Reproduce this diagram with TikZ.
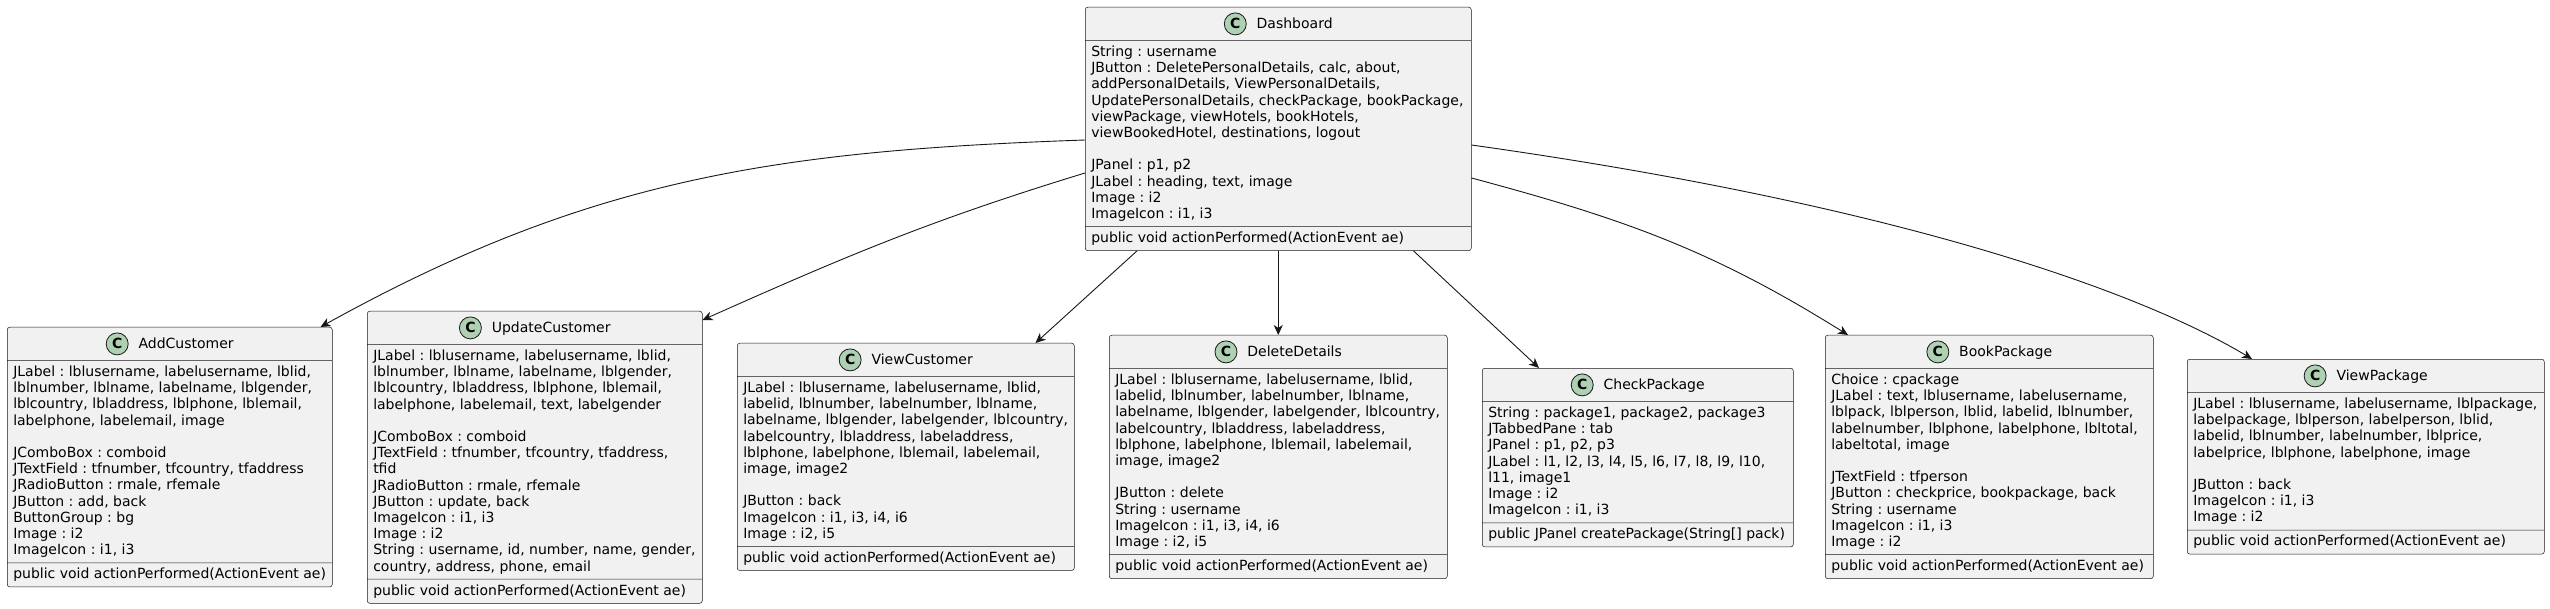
\documentclass[tikz,border=0pt]{standalone}
\usepackage{fontspec}
\setmainfont{DejaVu Sans}
\frenchspacing
\usetikzlibrary{arrows.meta, positioning, shapes.multipart}
\definecolor{classfill}{HTML}{F1F1F1}
\definecolor{classline}{HTML}{181818}
\definecolor{spotfill}{HTML}{ADD1B2}
\newcommand{\classhead}[1]{\tikz[baseline=-5pt]\node[spot]{C};\hspace{10pt}#1}

\begin{document}
\begin{tikzpicture}[
    x=1pt, y=-1pt,
    every node/.style={font=\fontsize{14}{16.2}\selectfont},
    umlclass/.style={rectangle split, rectangle split parts=3, rectangle split part align={center,left,left}, draw=classline, line width=0.5pt, fill=classfill, rounded corners=2.5pt, anchor=north west, inner xsep=6pt, inner ysep=5pt, align=left},
    spot/.style={circle, anchor=center, draw=classline, line width=0.8pt, fill=spotfill, minimum size=22pt, inner sep=0pt, font=\fontsize{14}{14}\selectfont\bfseries},
    dep/.style={-{Stealth[length=10pt, width=9pt, inset=3pt]}, line width=0.9pt, draw=classline}
]
\useasboundingbox[fill=white] (0,0) rectangle (2550,609);

% Main window
\node[umlclass, minimum width=386pt] (dash) at (1085,7) {\classhead{Dashboard}
  \nodepart{two}String : username\\
  JButton : DeletePersonalDetails, calc, about,\\
  addPersonalDetails, ViewPersonalDetails,\\
  UpdatePersonalDetails, checkPackage, bookPackage,\\
  viewPackage, viewHotels, bookHotels,\\
  viewBookedHotel, destinations, logout\\[16.2pt]
  JPanel : p1, p2\\
  JLabel : heading, text, image\\
  Image : i2\\
  ImageIcon : i1, i3
  \nodepart{three}public void actionPerformed(ActionEvent ae)};

% Customer screens
\node[umlclass, minimum width=325pt] (add) at (7,327) {\classhead{AddCustomer}
  \nodepart{two}JLabel : lblusername, labelusername, lblid,\\
  lblnumber, lblname, labelname, lblgender,\\
  lblcountry, lbladdress, lblphone, lblemail,\\
  labelphone, labelemail, image\\[16.2pt]
  JComboBox : comboid\\
  JTextField : tfnumber, tfcountry, tfaddress\\
  JRadioButton : rmale, rfemale\\
  JButton : add, back\\
  ButtonGroup : bg\\
  Image : i2\\
  ImageIcon : i1, i3
  \nodepart{three}public void actionPerformed(ActionEvent ae)};

\node[umlclass, minimum width=335pt] (upd) at (367,311) {\classhead{UpdateCustomer}
  \nodepart{two}JLabel : lblusername, labelusername, lblid,\\
  lblnumber, lblname, labelname, lblgender,\\
  lblcountry, lbladdress, lblphone, lblemail,\\
  labelphone, labelemail, text, labelgender\\[16.2pt]
  JComboBox : comboid\\
  JTextField : tfnumber, tfcountry, tfaddress,\\
  tfid\\
  JRadioButton : rmale, rfemale\\
  JButton : update, back\\
  ImageIcon : i1, i3\\
  Image : i2\\
  String : username, id, number, name, gender,\\
  country, address, phone, email
  \nodepart{three}public void actionPerformed(ActionEvent ae)};

\node[umlclass, minimum width=337pt] (vcust) at (737,343) {\classhead{ViewCustomer}
  \nodepart{two}JLabel : lblusername, labelusername, lblid,\\
  labelid, lblnumber, labelnumber, lblname,\\
  labelname, lblgender, labelgender, lblcountry,\\
  labelcountry, lbladdress, labeladdress,\\
  lblphone, labelphone, lblemail, labelemail,\\
  image, image2\\[16.2pt]
  JButton : back\\
  ImageIcon : i1, i3, i4, i6\\
  Image : i2, i5
  \nodepart{three}public void actionPerformed(ActionEvent ae)};

\node[umlclass, minimum width=338pt] (del) at (1109,335) {\classhead{DeleteDetails}
  \nodepart{two}JLabel : lblusername, labelusername, lblid,\\
  labelid, lblnumber, labelnumber, lblname,\\
  labelname, lblgender, labelgender, lblcountry,\\
  labelcountry, lbladdress, labeladdress,\\
  lblphone, labelphone, lblemail, labelemail,\\
  image, image2\\[16.2pt]
  JButton : delete\\
  String : username\\
  ImageIcon : i1, i3, i4, i6\\
  Image : i2, i5
  \nodepart{three}public void actionPerformed(ActionEvent ae)};

% Package screens
\node[umlclass, minimum width=311pt] (chk) at (1482,368) {\classhead{CheckPackage}
  \nodepart{two}String : package1, package2, package3\\
  JTabbedPane : tab\\
  JPanel : p1, p2, p3\\
  JLabel : l1, l2, l3, l4, l5, l6, l7, l8, l9, l10,\\
  l11, image1\\
  Image : i2\\
  ImageIcon : i1, i3
  \nodepart{three}public JPanel createPackage(String[] pack)};

\node[umlclass, minimum width=328pt] (book) at (1825,335) {\classhead{BookPackage}
  \nodepart{two}Choice : cpackage\\
  JLabel : text, lblusername, labelusername,\\
  lblpack, lblperson, lblid, labelid, lblnumber,\\
  labelnumber, lblphone, labelphone, lbltotal,\\
  labeltotal, image\\[16.2pt]
  JTextField : tfperson\\
  JButton : checkprice, bookpackage, back\\
  String : username\\
  ImageIcon : i1, i3\\
  Image : i2
  \nodepart{three}public void actionPerformed(ActionEvent ae)};

\node[umlclass, minimum width=357pt] (vpkg) at (2187,359) {\classhead{ViewPackage}
  \nodepart{two}JLabel : lblusername, labelusername, lblpackage,\\
  labelpackage, lblperson, labelperson, lblid,\\
  labelid, lblnumber, labelnumber, lblprice,\\
  labelprice, lblphone, labelphone, image\\[16.2pt]
  JButton : back\\
  ImageIcon : i1, i3\\
  Image : i2
  \nodepart{three}public void actionPerformed(ActionEvent ae)};

% Dependencies
\draw[dep] ([yshift=-133pt]dash.north west) to[out=182, in=29] ([xshift=-12pt]add.north east);
\draw[dep] ([yshift=-166pt]dash.north west) to[out=197, in=24] ([yshift=-9pt]upd.north east);
\draw[dep] ([xshift=52pt]dash.south west) -- ([xshift=-39pt]vcust.north east);
\draw[dep] (dash.south) -- (del.north);
\draw[dep] ([xshift=-58pt]dash.south east) -- ([xshift=57pt]chk.north west);
\draw[dep] ([yshift=-171pt]dash.north east) to[out=345, in=148] ([xshift=23pt]book.north west);
\draw[dep] ([yshift=-138pt]dash.north east) to[out=352, in=149, out distance=455pt, in distance=117pt] ([xshift=65pt]vpkg.north west);
\end{tikzpicture}
\end{document}
